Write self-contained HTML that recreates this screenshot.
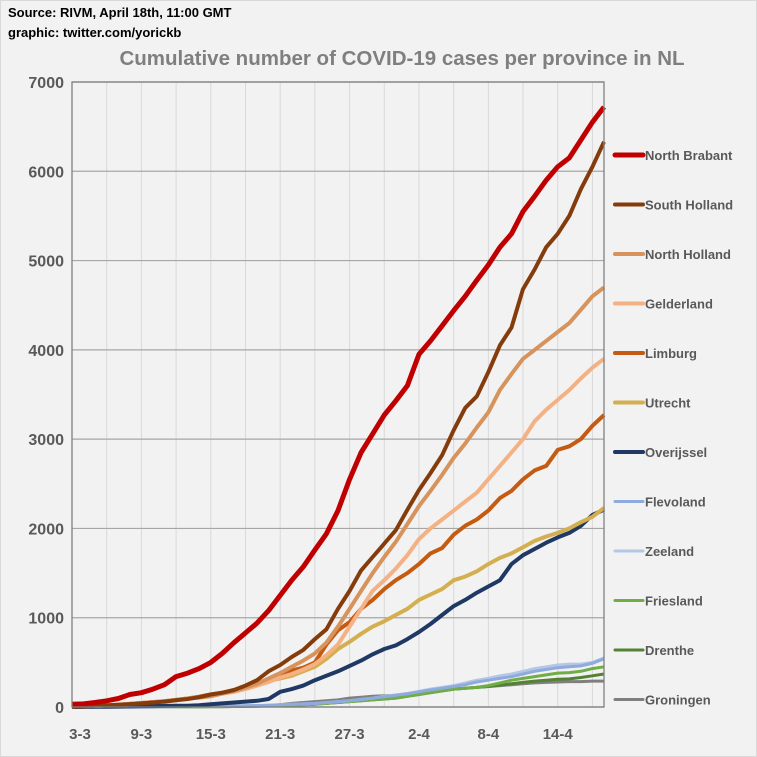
<!DOCTYPE html>
<html><head><meta charset="utf-8"><style>
html,body{margin:0;padding:0;background:#f2f2f2;}
svg{display:block;font-family:"Liberation Sans",sans-serif;}
</style></head><body>
<svg id="chart" width="757" height="757" viewBox="0 0 757 757" xmlns="http://www.w3.org/2000/svg">
<rect x="0.5" y="0.5" width="756" height="756" fill="#f2f2f2" stroke="#d9d9d9"/>
<text x="8" y="17" font-size="13" font-weight="bold" fill="#000">Source: RIVM, April 18th, 11:00 GMT</text>
<text x="8" y="37" font-size="13" font-weight="bold" fill="#000">graphic: twitter.com/yorickb</text>
<text x="402" y="65" font-size="20.5" font-weight="bold" fill="#7f7f7f" text-anchor="middle">Cumulative number of COVID-19 cases per province in NL</text>
<g id="grid"></g><g id="series"></g><g id="axes"></g><g id="legend"></g>
</svg>
<script>
const dates = ["3-3","4-3","5-3","6-3","7-3","8-3","9-3","10-3","11-3","12-3","13-3","14-3","15-3","16-3","17-3","18-3","19-3","20-3","21-3","22-3","23-3","24-3","25-3","26-3","27-3","28-3","29-3","30-3","31-3","1-4","2-4","3-4","4-4","5-4","6-4","7-4","8-4","9-4","10-4","11-4","12-4","13-4","14-4","15-4","16-4","17-4","18-4"];
const yTicks = [0,1000,2000,3000,4000,5000,6000,7000];
const seriesNames = ["North Brabant","South Holland","North Holland","Gelderland","Limburg","Utrecht","Overijssel","Flevoland","Zeeland","Friesland","Drenthe","Groningen"];
const northBrabant = [30,35,50,70,95,140,160,200,250,340,380,430,500,600,720,830,940,1080,1250,1420,1570,1760,1940,2200,2550,2850,3060,3270,3430,3600,3950,4100,4270,4440,4600,4780,4950,5150,5300,5550,5720,5900,6050,6150,6350,6550,6720];
const southHolland = [5,8,12,18,25,32,40,50,60,75,90,110,140,160,190,240,300,400,470,560,640,760,870,1100,1300,1530,1680,1830,1980,2210,2430,2620,2820,3100,3350,3480,3750,4050,4250,4680,4900,5150,5300,5500,5800,6050,6330];
const northHolland = [5,8,12,18,25,35,45,55,65,80,95,105,120,150,180,220,260,320,380,450,520,600,720,900,1100,1300,1500,1680,1850,2050,2250,2420,2600,2790,2950,3130,3300,3550,3730,3900,4000,4100,4200,4300,4450,4600,4700];
const gelderland = [5,8,12,18,25,35,45,55,65,80,95,110,130,150,170,200,240,280,330,370,420,480,580,700,900,1100,1300,1420,1550,1700,1880,2000,2100,2200,2300,2400,2550,2700,2850,3000,3200,3330,3440,3550,3680,3800,3900];
const limburg = [5,8,12,18,25,35,45,55,65,80,95,115,140,160,180,210,250,300,350,410,440,500,700,860,950,1100,1200,1320,1420,1500,1600,1720,1780,1930,2030,2100,2200,2340,2420,2550,2650,2700,2880,2920,3000,3150,3270];
const utrecht = [5,8,12,18,25,35,45,55,65,80,95,115,140,160,190,220,260,290,320,350,400,450,540,650,730,820,900,960,1030,1100,1200,1260,1320,1420,1460,1520,1600,1670,1720,1790,1860,1910,1950,2000,2070,2130,2230];
const overijssel = [0,0,2,3,5,6,8,10,12,14,15,20,30,40,50,60,70,90,170,200,240,300,350,400,460,520,590,650,690,760,840,930,1030,1130,1200,1280,1350,1420,1600,1700,1770,1840,1900,1950,2030,2150,2210];
const flevoland = [0,0,0,0,0,0,1,2,3,4,5,6,8,10,12,14,16,20,25,30,35,40,50,60,70,85,100,115,130,150,170,190,210,230,250,280,300,320,340,370,400,420,440,450,460,490,540];
const zeeland = [0,0,0,0,0,0,1,2,3,4,5,6,8,10,12,14,16,20,25,30,35,40,50,60,70,85,100,120,135,150,175,200,220,240,270,300,320,350,370,400,430,450,470,480,480,500,550];
const friesland = [0,0,0,0,0,0,0,1,1,2,2,3,4,5,6,8,10,12,15,20,25,30,40,50,60,70,80,90,100,120,140,160,180,200,210,220,240,270,300,320,340,360,380,385,400,430,450];
const drenthe = [0,0,0,0,0,0,0,1,1,2,2,3,4,5,6,8,10,12,15,20,25,30,40,50,60,70,80,90,100,120,140,160,180,200,210,220,230,245,260,275,290,300,310,315,330,350,370];
const groningen = [0,0,0,0,0,0,0,1,1,2,2,3,4,5,6,8,10,15,25,40,50,60,70,80,100,110,120,125,130,140,150,160,180,200,210,220,230,240,250,260,270,275,280,285,285,290,290];
const seriesData = [northBrabant,southHolland,northHolland,gelderland,limburg,utrecht,overijssel,flevoland,zeeland,friesland,drenthe,groningen];
const colors = ["#c00000","#843c0c","#d6935c","#f4b183","#c55a11","#d4af4f","#1f3864","#8faadc","#b4c7e7","#70ad47","#548235","#7f7f7f"];
const widths = [5,4,4,4,4,4,4,3,3,3,3,3];

const NS = "http://www.w3.org/2000/svg";
const L=72, R=604, T=82, B=707, YMAX=7000;
function xs(i){return L + i*(R-L)/(dates.length-1);}
function ys(v){return B - v*(B-T)/YMAX;}
function mk(tag, attrs, parent){const e=document.createElementNS(NS,tag);for(const k in attrs)e.setAttribute(k,attrs[k]);parent.appendChild(e);return e;}
const grid=document.getElementById('grid'), ser=document.getElementById('series'), axes=document.getElementById('axes'), leg=document.getElementById('legend');
mk('rect',{x:L,y:T,width:R-L,height:B-T,fill:'#f2f2f2'},grid);
for(let i=3;i<dates.length-1;i+=3){
  const g=mk('line',{x1:xs(i),x2:xs(i),y1:T,y2:B,stroke:'#d9d9d9','stroke-width':1},grid);
  
  
}
yTicks.forEach(v=>{
  const g=mk('line',{x1:L,x2:R,y1:ys(v),y2:ys(v),stroke:'#a6a6a6','stroke-width':1.2},grid);
  
  
  const t=mk('text',{x:L-8,y:ys(v)+6,'font-size':16,'font-weight':'bold',fill:'#595959','text-anchor':'end'},axes);
  t.textContent=v;
  
  
});
const fr=mk('rect',{x:L,y:T,width:R-L,height:B-T,fill:'none',stroke:'#7f7f7f','stroke-width':1.3},axes);


for(let i=0;i<dates.length;i+=6){
  const t=mk('text',{x:xs(i)+(i===0?8:0),y:739,'font-size':15,'font-weight':'bold',fill:'#595959','text-anchor':'middle'},axes);
  t.textContent=dates[i];
  
  
}
for(let s=seriesData.length-1;s>=0;s--){
  const d=seriesData[s].map((v,i)=>(i?'L':'M')+xs(i).toFixed(1)+','+ys(v).toFixed(1)).join('');
  const p=mk('path',{d:d,fill:'none',stroke:colors[s],'stroke-width':widths[s],'stroke-linejoin':'round'},ser);
  
  
}
seriesNames.forEach((n,s)=>{
  const y=155+s*49.5;
  const g=mk('g',{},leg);
  
  
  mk('line',{x1:615,x2:643,y1:y,y2:y,stroke:colors[s],'stroke-width':s===0?5:(s<7?4:3),'stroke-linecap':'round'},g);
  const t=mk('text',{x:645,y:y+5,'font-size':13,'font-weight':'bold',fill:'#595959'},g);
  t.textContent=n;
});
</script>
</body></html>
